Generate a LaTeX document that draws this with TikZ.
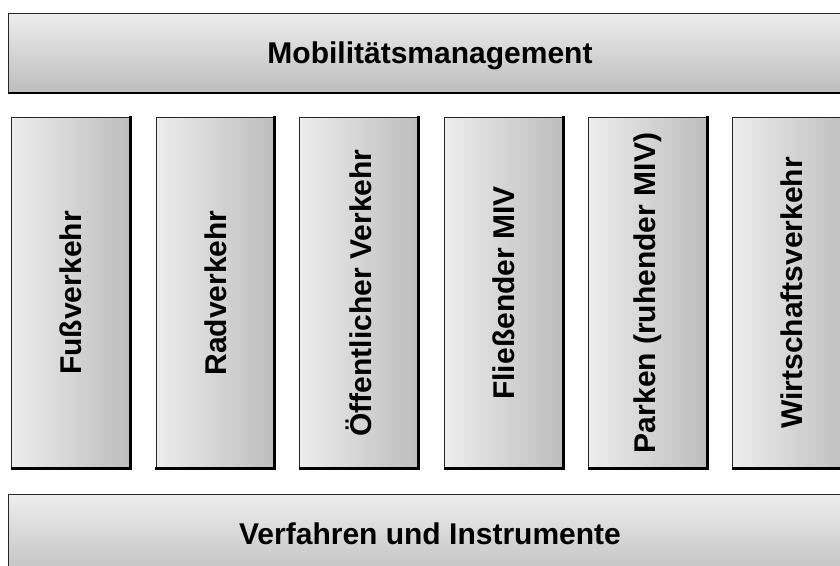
\documentclass[tikz,border=0pt]{standalone}
\usepackage{fontspec}
\setmainfont{Liberation Sans}
\begin{document}
\begin{tikzpicture}[x=1pt,y=1pt,
  labelfont/.style={font=\fontsize{30}{34}\selectfont\bfseries},
  band/.style={rectangle, inner sep=0pt, draw=black!85, line width=1pt,
    top color=black!7, bottom color=black!26, labelfont},
  pillar/.style={rectangle, inner sep=0pt, draw=black!85, line width=1pt,
    left color=black!7, right color=black!26, labelfont,
    minimum width=119pt, minimum height=351pt},
  rim/.style={line width=2.6pt, black, line cap=rect}]
\useasboundingbox (0,0) rectangle (840,565);
\fill[white] (0,0) rectangle (840,565);

% top band
\node[band, minimum width=842pt, minimum height=80pt, anchor=north west] (top) at (8,552) {};
\node[labelfont] (toplabel) at (430,509) {Mobilitätsmanagement};

% vertical pillars
\node[pillar, anchor=north west] (p1) at (11,448)  {};
\node[pillar, anchor=north west] (p2) at (155.5,448) {};
\node[pillar, anchor=north west] (p3) at (299,448) {};
\node[pillar, anchor=north west] (p4) at (444,448) {};
\node[pillar, anchor=north west] (p5) at (588,448) {};
\node[pillar, anchor=north west] (p6) at (732,448) {};

\node[labelfont, rotate=90] (t1) at (p1.center) {Fußverkehr};
\node[labelfont, rotate=90] (t2) at (p2.center) {Radverkehr};
\node[labelfont, rotate=90] (t3) at (p3.center) {Öffentlicher Verkehr};
\node[labelfont, rotate=90] (t4) at (p4.center) {Fließender MIV};
\node[labelfont, rotate=90] (t5) at (p5.center) {Parken (ruhender MIV)};
\node[labelfont, rotate=90] (t6) at (p6.center) {Wirtschaftsverkehr};

% bottom band
\node[band, minimum width=842pt, minimum height=90pt, anchor=north west] (bot) at (8,71) {};
\node[labelfont] (botlabel) at (430,31) {Verfahren und Instrumente};

% heavier lower and right rims
\foreach \p in {p1,p2,p3,p4,p5,p6,top}
  \draw[rim] ([xshift=0.8pt,yshift=0.8pt]\p.south west) -- ([xshift=-0.8pt,yshift=0.8pt]\p.south east)
             -- ([xshift=-0.8pt]\p.north east);
\end{tikzpicture}
\end{document}
